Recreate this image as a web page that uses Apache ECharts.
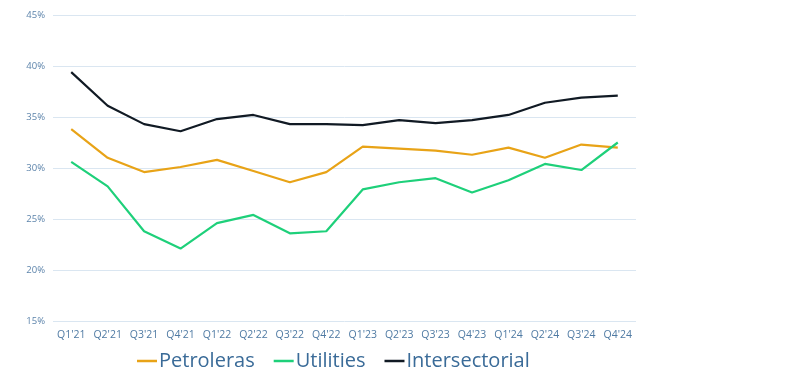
<!DOCTYPE html>
<html><head><meta charset="utf-8">
<script src="https://cdn.jsdelivr.net/npm/echarts@6/dist/echarts.min.js"></script>
<style>html,body{margin:0;padding:0;background:#fff}#c{width:800px;height:381px}</style>
</head><body><div id="c"></div>
<script>
const categories = ["Q1'21","Q2'21","Q3'21","Q4'21","Q1'22","Q2'22","Q3'22","Q4'22","Q1'23","Q2'23","Q3'23","Q4'23","Q1'24","Q2'24","Q3'24","Q4'24"];
const petroleras = [33.8,31.0,29.6,30.1,30.8,29.7,28.6,29.6,32.1,31.9,31.7,31.3,32.0,31.0,32.3,32.0];
const utilities = [30.6,28.2,23.8,22.1,24.6,25.4,23.6,23.8,27.9,28.6,29.0,27.6,28.8,30.4,29.8,32.5];
const intersectorial = [39.4,36.1,34.3,33.6,34.8,35.2,34.3,34.3,34.2,34.7,34.4,34.7,35.2,36.4,36.9,37.1];
const yTicks = [15,20,25,30,35,40,45];

const chart = echarts.init(document.getElementById('c'), null, {renderer:'canvas'});
const mk = (name, data, color) => ({name, type:'line', data, symbol:'none', smooth:false,
  lineStyle:{color, width:2.2}, itemStyle:{color}});
chart.setOption({
  animation:false,
  grid:{left:53, right:164, top:15, bottom:60, containLabel:false},
  legend:{bottom:5, left:132, icon:'rect', itemWidth:20, itemHeight:2.5, itemGap:19,
    textStyle:{color:'#3a6b98', fontSize:20, fontFamily:'"Open Sans", sans-serif', padding:[0,0,0,-3]},
    data:['Petroleras','Utilities','Intersectorial']},
  xAxis:{type:'category', data:categories, boundaryGap:true,
    axisLine:{show:false}, axisTick:{show:false},
    axisLabel:{interval:0, color:'#4f7aa3', fontSize:10.5, fontFamily:'"Open Sans", sans-serif', margin:9}},
  yAxis:{type:'value', min:yTicks[0], max:yTicks[yTicks.length-1], interval:5,
    axisLine:{show:false}, axisTick:{show:false},
    splitLine:{lineStyle:{color:'#dae6f1', width:1}},
    axisLabel:{color:'#5d84ab', fontSize:9.5, fontFamily:'"Open Sans", sans-serif', formatter:v=>v+'%', margin:8}},
  series:[mk('Petroleras',petroleras,'#e8a317'), mk('Utilities',utilities,'#1ed07a'), mk('Intersectorial',intersectorial,'#111a24')]
});
</script></body></html>
